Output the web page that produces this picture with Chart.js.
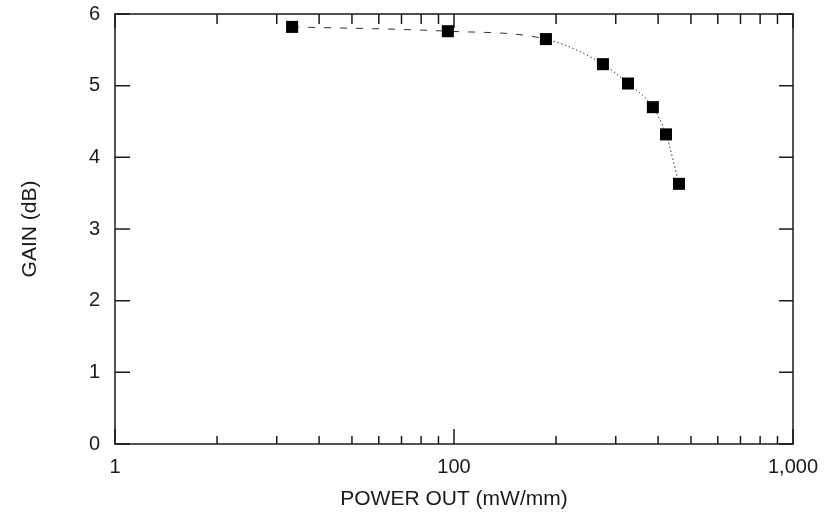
<!DOCTYPE html>
<html><head><meta charset="utf-8">
<script src="https://cdn.jsdelivr.net/npm/chart.js@4"></script>
<style>html,body{margin:0;padding:0;background:#fff}#wrap{width:834px;height:516px}</style>
</head><body><div id="wrap"><canvas id="c" width="834" height="516"></canvas></div>
<script>
// ---- data ----
const powerOut = [33.3, 95.9, 186.7, 275, 326, 386, 422, 461];   // mW/mm (log axis)
const gain     = [5.82, 5.76, 5.65, 5.30, 5.03, 4.70, 4.32, 3.63]; // dB
const xTickValues = [10, 100, 1000];
const xTickLabels = ['1', '100', '1,000'];
const xMinorTicks = [20, 30, 40, 50, 60, 70, 80, 90, 200, 300, 400, 500, 600, 700, 800, 900];
const yTickValues = [0, 1, 2, 3, 4, 5, 6];

const FONT = '"Liberation Sans", Arial, Helvetica, sans-serif';
const INK = '#1a1a1a';

const frameTicks = {
  id: 'frameTicks',
  beforeDatasetsDraw(chart) {
    const {ctx, chartArea: a, scales: {x, y}} = chart;
    ctx.save();
    ctx.strokeStyle = INK;
    ctx.lineWidth = 1.5;
    ctx.strokeRect(a.left, a.top, a.right - a.left, a.bottom - a.top);
    ctx.beginPath();
    xTickValues.forEach(v => {
      const px = x.getPixelForValue(v);
      ctx.moveTo(px, a.bottom); ctx.lineTo(px, a.bottom - 15);
      ctx.moveTo(px, a.top); ctx.lineTo(px, a.top + 14);
    });
    xMinorTicks.forEach(v => {
      const px = x.getPixelForValue(v);
      ctx.moveTo(px, a.bottom); ctx.lineTo(px, a.bottom - 8);
      ctx.moveTo(px, a.top); ctx.lineTo(px, a.top + 10);
    });
    yTickValues.forEach(v => {
      const py = y.getPixelForValue(v);
      ctx.moveTo(a.left, py); ctx.lineTo(a.left + 15, py);
      ctx.moveTo(a.right, py); ctx.lineTo(a.right - 14, py);
    });
    ctx.stroke();
    ctx.restore();
  }
};

new Chart(document.getElementById('c'), {
  type: 'line',
  data: {
    datasets: [{
      data: powerOut.map((p, i) => ({x: p, y: gain[i]})),
      borderColor: '#333',
      borderWidth: 1,
      cubicInterpolationMode: 'monotone',
      segment: {
        borderDash: c => c.p0DataIndex < 2 ? [7, 9] : [1.5, 2.5]
      },
      pointStyle: 'rect',
      pointRadius: 8.5,
      pointHoverRadius: 8.5,
      pointBackgroundColor: '#000',
      pointBorderColor: '#000',
      pointBorderWidth: 0,
      fill: false
    }]
  },
  plugins: [frameTicks],
  options: {
    responsive: false,
    animation: false,
    devicePixelRatio: 1,
    layout: {padding: {left: 0, right: 41, top: 14, bottom: 0}},
    plugins: {legend: {display: false}, tooltip: {enabled: false}},
    scales: {
      x: {
        type: 'logarithmic',
        min: 10, max: 1000,
        afterBuildTicks: s => { s.ticks = xTickValues.map(v => ({value: v})); },
        afterFit: s => { s.height = 72; },
        grid: {display: false, drawTicks: false},
        border: {display: false},
        ticks: {
          autoSkip: false, maxRotation: 0, padding: 11,
          color: INK, font: {family: FONT, size: 20},
          callback: v => { const i = xTickValues.indexOf(v); return i >= 0 ? xTickLabels[i] : ''; }
        },
        title: {display: true, text: 'POWER OUT (mW/mm)', color: INK,
          font: {family: FONT, size: 21}, padding: {top: 0, bottom: 4}}
      },
      y: {
        type: 'linear',
        min: 0, max: 6,
        afterBuildTicks: s => { s.ticks = yTickValues.map(v => ({value: v})); },
        afterFit: s => { s.width = 115; s.paddingTop = 0; s.paddingBottom = 0; },
        grid: {display: false, drawTicks: false},
        border: {display: false},
        ticks: {padding: 15, color: INK, font: {family: FONT, size: 20}},
        title: {display: true, text: 'GAIN (dB)', color: INK,
          font: {family: FONT, size: 21}, padding: {top: 18, bottom: 0}}
      }
    }
  }
});
</script>
</body></html>
